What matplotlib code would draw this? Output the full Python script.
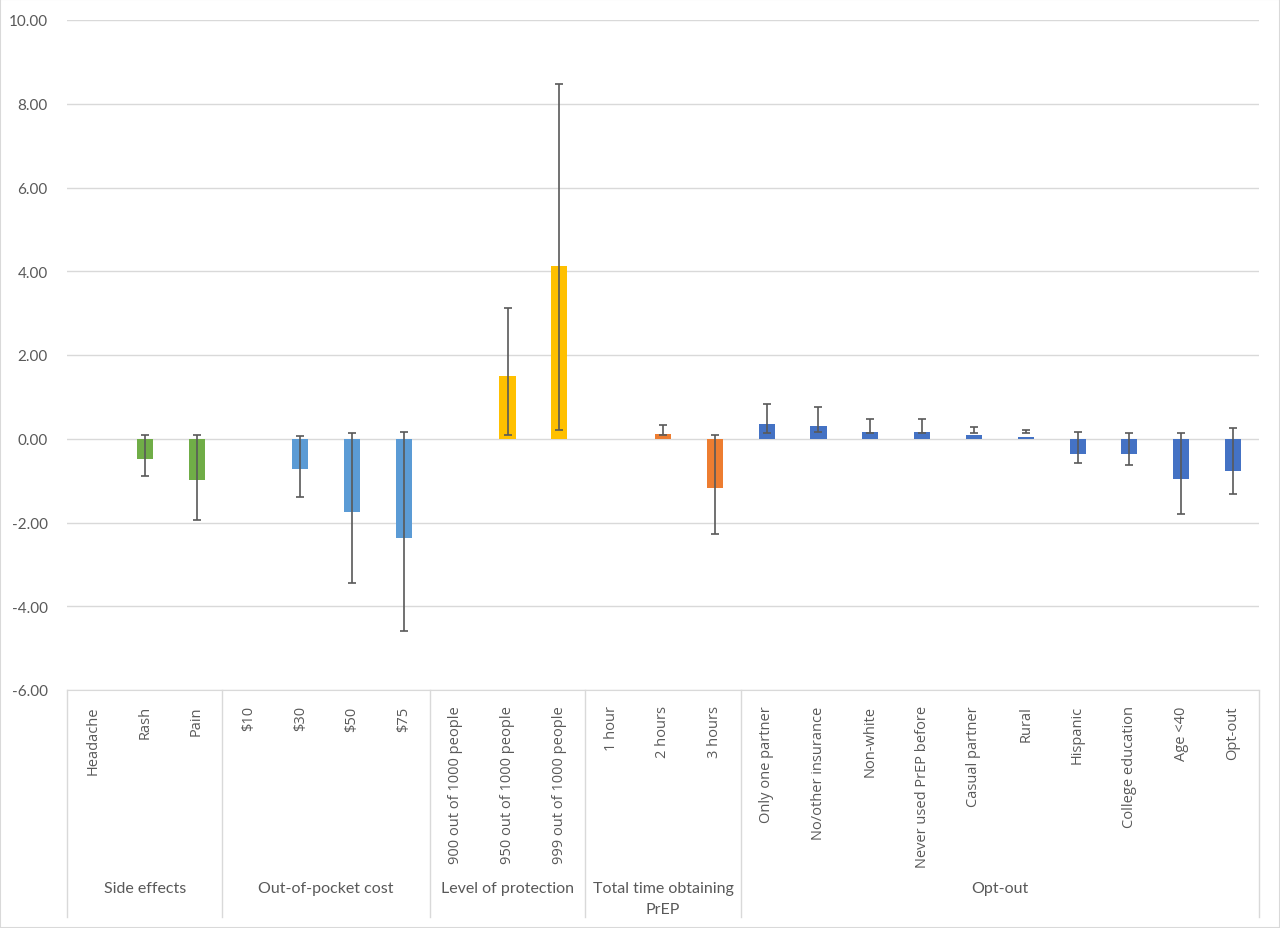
import numpy as np
import matplotlib
matplotlib.use("Agg")
import matplotlib.pyplot as plt
from matplotlib.patches import Rectangle

plt.rcParams['font.family'] = ['Lato', 'DejaVu Sans']

categories = ["Headache", "Rash", "Pain",
              "$10", "$30", "$50", "$75",
              "900 out of 1000 people", "950 out of 1000 people", "999 out of 1000 people",
              "1 hour", "2 hours", "3 hours",
              "Only one partner", "No/other insurance", "Non-white", "Never used PrEP before",
              "Casual partner", "Rural", "Hispanic", "College education", "Age <40", "Opt-out"]
groups = ["Side effects", "Out-of-pocket cost", "Level of protection",
          "Total time obtaining\nPrEP", "Opt-out"]
group_sizes = [3, 4, 3, 3, 10]
group_colors = ["#70AD47", "#5B9BD5", "#FFC000", "#ED7D31", "#4472C4"]

values = [0, -0.48, -0.99,
          0, -0.72, -1.76, -2.36,
          0, 1.49, 4.12,
          0, 0.12, -1.17,
          0.36, 0.30, 0.17, 0.16, 0.08, 0.05, -0.36, -0.37, -0.95, -0.77]
ci_low = [np.nan, -0.90, -1.93,
          np.nan, -1.40, -3.44, -4.60,
          np.nan, 0.10, 0.22,
          np.nan, 0.08, -2.27,
          0.14, 0.16, 0.14, 0.14, 0.14, 0.14, -0.57, -0.62, -1.79, -1.33]
ci_high = [np.nan, 0.10, 0.08,
           np.nan, 0.07, 0.13, 0.15,
           np.nan, 3.12, 8.46,
           np.nan, 0.32, 0.08,
           0.83, 0.75, 0.48, 0.48, 0.28, 0.21, 0.16, 0.14, 0.14, 0.25]

colors = []
for c, n in zip(group_colors, group_sizes):
    colors += [c] * n

fig = plt.figure(figsize=(12.8, 9.29), dpi=100)
fig.patches.append(Rectangle((0, 0), 1, 1, transform=fig.transFigure,
                             fill=False, edgecolor="#D9D9D9", linewidth=1.5))
ax = fig.add_axes([67 / 1280, 1 - 691 / 929, (1259 - 67) / 1280, (691 - 21) / 929])

x = np.arange(len(categories))
ax.bar(x, values, width=0.31, color=colors, zorder=2)

# error bars span the interval [ci_low, ci_high]
lo = np.array(ci_low)
hi = np.array(ci_high)
m = ~np.isnan(lo)
mid = (lo[m] + hi[m]) / 2
half = (hi[m] - lo[m]) / 2
ax.errorbar(x[m], mid, yerr=half, fmt="none",
            ecolor="#595959", elinewidth=1.2, capsize=3, capthick=1.2, zorder=3)

ax.set_xlim(-0.5, len(categories) - 0.5)
ax.set_ylim(-6, 10)
ax.set_yticks(np.arange(-6, 11, 2))
ax.set_yticklabels([f"{t:.2f}" for t in np.arange(-6, 11, 2)])
ax.tick_params(axis="y", length=0, labelsize=11, labelcolor="#595959", pad=14)
ax.grid(axis="y", color="#D9D9D9", linewidth=1, zorder=0)
ax.set_axisbelow(True)
for s in ["top", "right", "left"]:
    ax.spines[s].set_visible(False)
ax.spines["bottom"].set_color("#D9D9D9")

ax.set_xticks(x)
ax.set_xticklabels(categories, rotation=90, va="top", ha="center",
                   family=["Open Sans", "DejaVu Sans"], fontsize=10.5)
ax.tick_params(axis="x", length=0, labelcolor="#595959", pad=11)

# group separators and group labels under the axis
trans = ax.get_xaxis_transform()
bounds = np.concatenate([[0], np.cumsum(group_sizes)]) - 0.5
for b in bounds:
    ax.plot([b, b], [0, -0.339], transform=trans, color="#D9D9D9",
            linewidth=1, clip_on=False)
for i, g in enumerate(groups):
    gx = (bounds[i] + bounds[i + 1]) / 2
    ax.text(gx, -0.285, g, transform=trans, ha="center", va="top",
            fontsize=11.5, color="#595959", linespacing=1.65)

fig.savefig("out.png", dpi=100)
